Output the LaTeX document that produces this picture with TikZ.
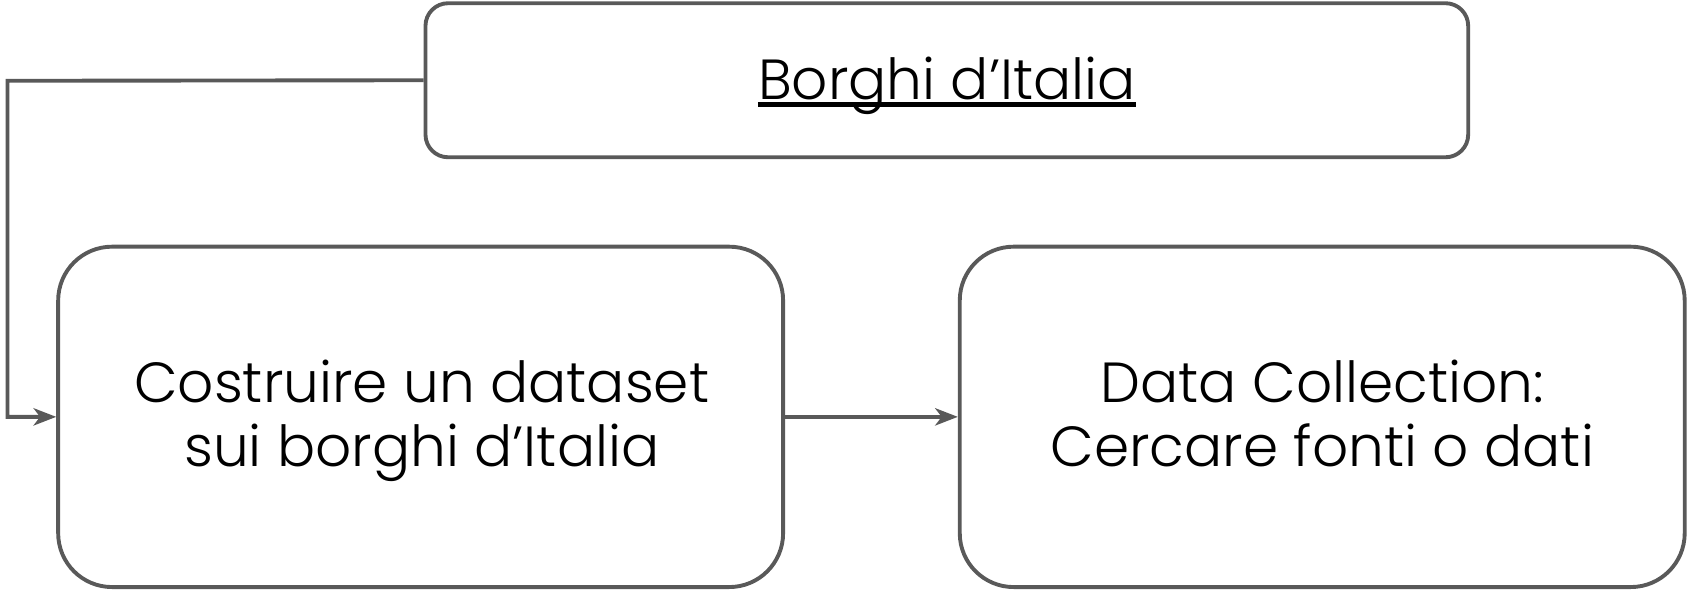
\documentclass[tikz,border=0pt]{standalone}
\usepackage{fontspec}
\setmainfont{Poppins}[UprightFont={* Light}]
\usetikzlibrary{arrows.meta}
\definecolor{edge}{HTML}{595959}
\tikzset{
  box/.style={draw=edge, line width=3.6pt, rounded corners=#1, inner sep=0pt},
  conn/.style={draw=edge, line width=3.6pt, -{Stealth[length=21pt,width=16pt,inset=6pt]}},
  lbl/.style={font=\fontsize{52.5}{59}\selectfont, inner sep=0pt, anchor=base}
}
\begin{document}
\begin{tikzpicture}[x=1pt,y=-1pt]
\useasboundingbox (0,0) rectangle (1568,550.5);
\node[box=21pt, minimum width=968pt, minimum height=143pt] (top) at (879,74.5) {};
\node[lbl] (toptxt) at (879,92) {Borghi d’Italia};
\draw[line width=4.3pt] ([yshift=-5pt]toptxt.base west) -- ([yshift=-5pt]toptxt.base east);
\node[box=50pt, minimum width=673pt, minimum height=316pt] (left) at (390.5,387) {};
\node[box=50pt, minimum width=673pt, minimum height=316pt] (right) at (1227.5,387) {};
\node[lbl] (l1) at (391.5,374) {Costruire un dataset};
\node[lbl] (l2) at (391.5,433.5) {sui borghi d’Italia};
\node[lbl] (r1) at (1227.5,374) {Data Collection:};
\node[lbl] (r2) at (1227.5,433.5) {Cercare fonti o dati};
\coordinate (c1) at (7,75);
\coordinate (c2) at (7,387);
\draw[conn] (top.west) -- (c1) -- (c2) -- (left.west);
\draw[conn] (left.east) -- (right.west);
\end{tikzpicture}
\end{document}
